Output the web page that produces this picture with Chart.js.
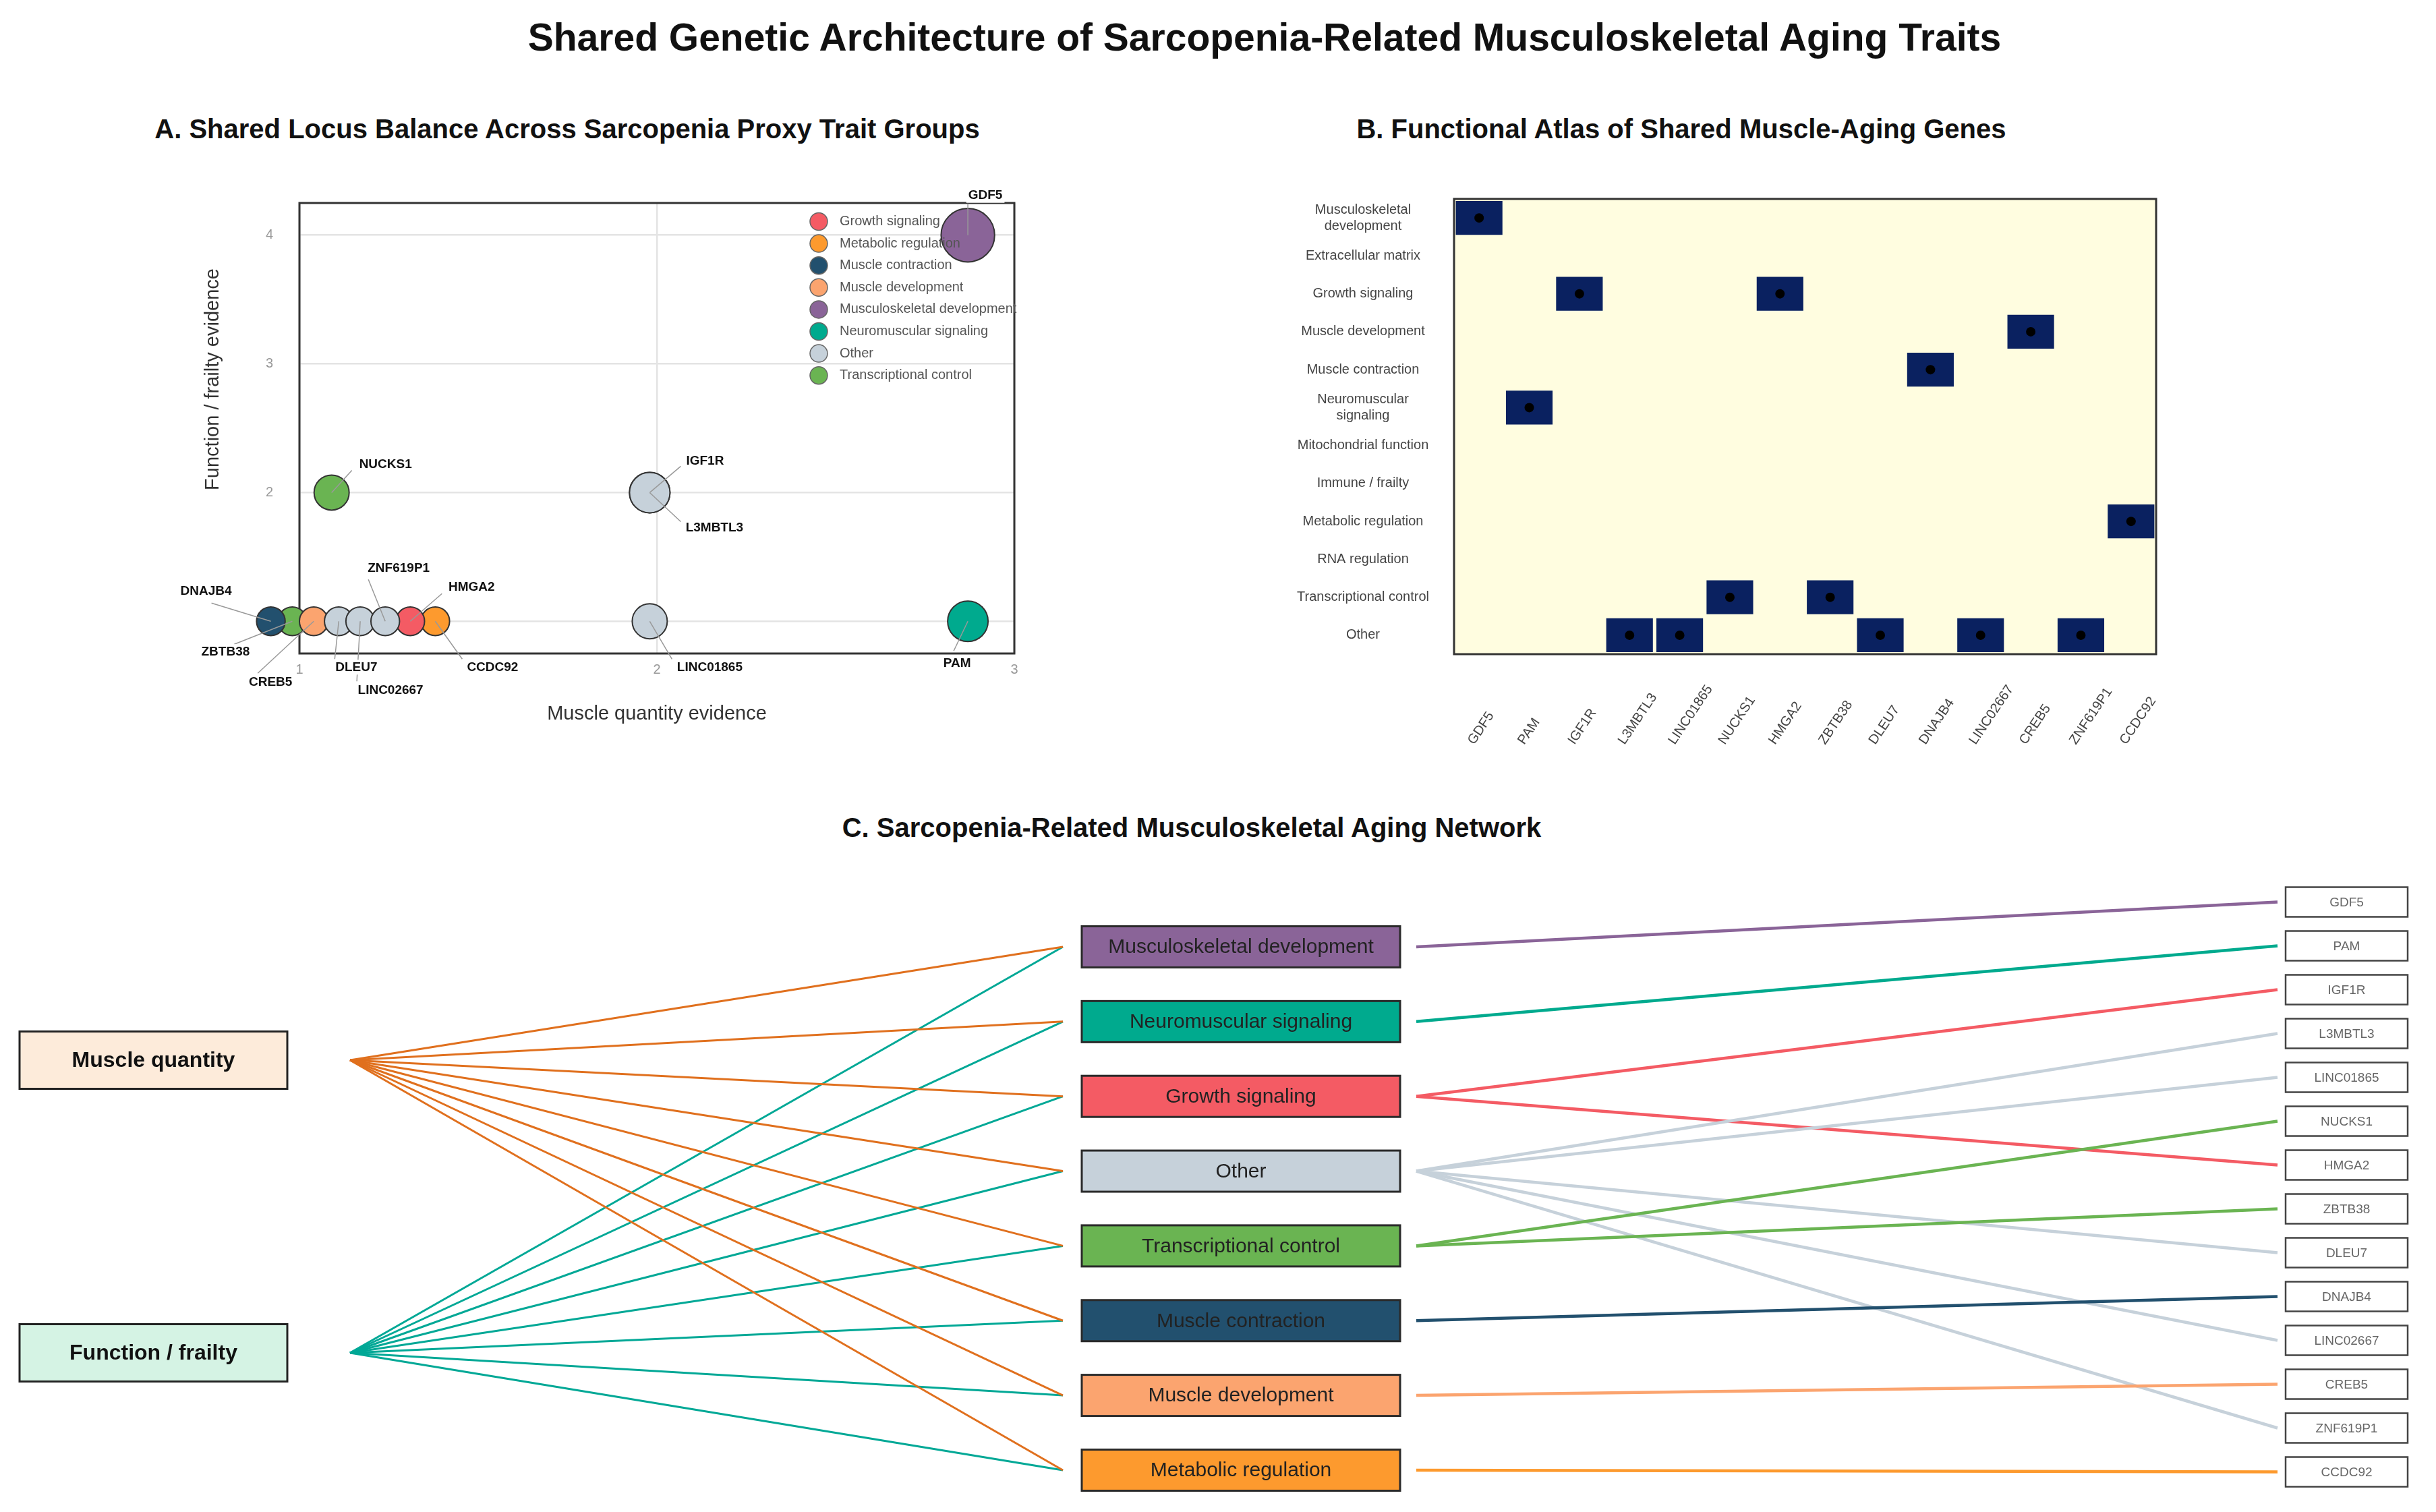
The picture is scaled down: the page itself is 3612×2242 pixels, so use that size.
<!DOCTYPE html>
<html>
<head>
<meta charset="utf-8">
<script src="https://cdn.jsdelivr.net/npm/chart.js@4.4.1/dist/chart.umd.min.js"></script>
<style>
  body { margin: 0; width: 3612px; height: 2242px; background: #fff; position: relative; overflow: hidden; font-family: "Liberation Sans", Arial, sans-serif; }
  .title { position: absolute; transform: translate(-50%, -50%); font-weight: bold; color: #111; white-space: nowrap; line-height: 1; }
  canvas { position: absolute; }
</style>
</head>
<body>
<div class="title" style="left:1875px; top:55px; font-size:57px;">Shared Genetic Architecture of Sarcopenia-Related Musculoskeletal Aging Traits</div>
<div class="title" style="left:841px; top:191px; font-size:40px;">A. Shared Locus Balance Across Sarcopenia Proxy Trait Groups</div>
<div class="title" style="left:2493px; top:191px; font-size:40px;">B. Functional Atlas of Shared Muscle-Aging Genes</div>
<div class="title" style="left:1767px; top:1227px; font-size:40px;">C. Sarcopenia-Related Musculoskeletal Aging Network</div>

<canvas id="chartA" width="1340" height="850" style="left:220px; top:250px;"></canvas>
<canvas id="chartB" width="1380" height="900" style="left:1880px; top:250px;"></canvas>
<canvas id="chartC" width="3612" height="1062" style="left:0px; top:1180px;"></canvas>

<script>
// ---- data ----
const genes = ['GDF5', 'PAM', 'IGF1R', 'L3MBTL3', 'LINC01865', 'NUCKS1', 'HMGA2', 'ZBTB38', 'DLEU7', 'DNAJB4', 'LINC02667', 'CREB5', 'ZNF619P1', 'CCDC92'];
const geneCategory = ['Musculoskeletal development', 'Neuromuscular signaling', 'Growth signaling', 'Other', 'Other',
  'Transcriptional control', 'Growth signaling', 'Transcriptional control', 'Other', 'Muscle contraction',
  'Other', 'Muscle development', 'Other', 'Metabolic regulation'];
// plotted positions in panel A (muscle evidence is dodged around the integer scores)
const muscleEvidence = [2.87, 2.87, 1.98, 1.98, 1.98, 1.09, 1.31, 0.98, 1.11, 0.92, 1.17, 1.04, 1.24, 1.38];
const functionEvidence = [4, 1, 2, 2, 1, 2, 1, 1, 1, 1, 1, 1, 1, 1];
const totalEvidence = [7, 4, 4, 4, 3, 3, 2, 2, 2, 2, 2, 2, 2, 2];
const categories = ['Growth signaling', 'Metabolic regulation', 'Muscle contraction', 'Muscle development',
  'Musculoskeletal development', 'Neuromuscular signaling', 'Other', 'Transcriptional control'];
const atlasRows = ['Musculoskeletal development', 'Extracellular matrix', 'Growth signaling', 'Muscle development',
  'Muscle contraction', 'Neuromuscular signaling', 'Mitochondrial function', 'Immune / frailty',
  'Metabolic regulation', 'RNA regulation', 'Transcriptional control', 'Other'];
const traitGroups = ['Muscle quantity', 'Function / frailty'];
const xTicksA = [1, 2, 3];
const yTicksA = [1, 2, 3, 4];

// ---- styles ----
const catColor = {
  'Growth signaling': '#F45B64',
  'Metabolic regulation': '#FD9A2E',
  'Muscle contraction': '#22506E',
  'Muscle development': '#FBA46F',
  'Musculoskeletal development': '#8A6498',
  'Neuromuscular signaling': '#00AA8E',
  'Other': '#C6D1DA',
  'Transcriptional control': '#6AB452'
};
const traitFill = ['#FDEBDA', '#D5F3E4'];
const traitEdge = ['#E0701E', '#00A896'];
const FONT = '"Liberation Sans", Arial, sans-serif';
Chart.defaults.font.family = FONT;

// label placement for panel A: [text dx, text dy, leader dx, leader dy] from bubble centre
const labelPos = {
  GDF5: [26, -59, 0, -47], PAM: [-16, 62, -21, 44], IGF1R: [82, -47, 46, -39], L3MBTL3: [96, 52, 46, 43],
  LINC01865: [89, 68, 33, 56], NUCKS1: [80, -42, 30, -33], HMGA2: [91, -51, 47, -41], ZBTB38: [-99, 45, -86, 34],
  DLEU7: [26, 68, -6, 56], DNAJB4: [-96, -45, -88, -27], LINC02667: [45, 102, -5, 89], CREB5: [-64, 90, -83, 77],
  ZNF619P1: [20, -79, -25, -62], CCDC92: [85, 68, 40, 56]
};

// ---- panel A ----
const panelA = {
  id: 'panelA',
  beforeDatasetsDraw(chart) {
    const { ctx, chartArea: a } = chart;
    ctx.save();
    ctx.strokeStyle = '#333';
    ctx.lineWidth = 3;
    ctx.strokeRect(a.left, a.top, a.right - a.left, a.bottom - a.top);
    ctx.restore();
    // bubbles dodged past the left frame still have to be drawn
    chart.$area = a;
    chart.chartArea = { left: a.left - 200, top: a.top - 200, right: a.right + 200, bottom: a.bottom + 200,
      width: a.width + 400, height: a.height + 400 };
  },
  afterDatasetsDraw(chart) {
    chart.chartArea = chart.$area;
    const { ctx, chartArea: a, scales: { x, y } } = chart;
    ctx.save();
    ctx.strokeStyle = '#999';
    ctx.lineWidth = 1.5;
    genes.forEach((g, i) => {
      const px = x.getPixelForValue(muscleEvidence[i]);
      const py = y.getPixelForValue(functionEvidence[i]);
      const p = labelPos[g];
      ctx.beginPath();
      ctx.moveTo(px, py);
      ctx.lineTo(px + p[2], py + p[3]);
      ctx.stroke();
    });
    ctx.font = 'bold 19px ' + FONT;
    ctx.textAlign = 'center';
    ctx.textBaseline = 'middle';
    genes.forEach((g, i) => {
      const px = x.getPixelForValue(muscleEvidence[i]);
      const py = y.getPixelForValue(functionEvidence[i]);
      const p = labelPos[g];
      const w = ctx.measureText(g).width;
      ctx.fillStyle = '#fff';
      ctx.fillRect(px + p[0] - w / 2 - 3, py + p[1] - 11, w + 6, 22);
      ctx.fillStyle = '#111';
      ctx.fillText(g, px + p[0], py + p[1]);
    });
    // legend
    const lx = a.right - 290, ly = a.top + 27.5;
    ctx.font = '20px ' + FONT;
    ctx.textAlign = 'left';
    categories.forEach((c, k) => {
      const cy = ly + k * 32.6;
      ctx.beginPath();
      ctx.arc(lx, cy, 13, 0, Math.PI * 2);
      ctx.fillStyle = catColor[c];
      ctx.fill();
      ctx.strokeStyle = '#666';
      ctx.lineWidth = 1.5;
      ctx.stroke();
      ctx.fillStyle = '#555';
      ctx.fillText(c, lx + 31, cy);
    });
    ctx.restore();
  }
};

new Chart(document.getElementById('chartA'), {
  type: 'bubble',
  data: {
    datasets: categories.map(c => ({
      label: c,
      data: genes.map((g, i) => ({ x: muscleEvidence[i], y: functionEvidence[i], r: 15 * Math.sqrt(totalEvidence[i]), c: geneCategory[i] }))
        .filter(d => d.c === c),
      backgroundColor: catColor[c],
      borderColor: '#333',
      borderWidth: 2,
      clip: false,
      order: c === 'Other' ? -1 : 0
    }))
  },
  options: {
    responsive: false,
    animation: false,
    layout: { padding: { top: 44, right: 56, left: 0, bottom: 0 } },
    plugins: { legend: { display: false }, tooltip: { enabled: false } },
    scales: {
      x: {
        type: 'linear', min: 1, max: 3,
        afterBuildTicks: s => { s.ticks = xTicksA.map(v => ({ value: v })); },
        afterFit: s => { s.height = 131; },
        grid: { color: '#E4E4E4', lineWidth: 2.5, drawTicks: false },
        border: { display: false },
        ticks: { padding: 12, color: '#999', font: { size: 20 } },
        title: { display: true, text: 'Muscle quantity evidence', color: '#333', font: { size: 29 }, padding: { top: 0, bottom: 24 } }
      },
      y: {
        type: 'linear', min: 0.75, max: 4.25,
        afterBuildTicks: s => { s.ticks = yTicksA.map(v => ({ value: v })); },
        afterFit: s => { s.width = 224; },
        grid: { color: '#E4E4E4', lineWidth: 2.5, drawTicks: false },
        border: { display: false },
        ticks: { padding: 39, color: '#999', font: { size: 20 } },
        title: { display: true, text: ' '.repeat(18) + 'Function / frailty evidence', color: '#333', font: { size: 29 }, padding: { top: 79, bottom: 0 } }
      }
    }
  },
  plugins: [panelA]
});

// ---- panel B ----
const wrappedRows = { 'Musculoskeletal development': ['Musculoskeletal', 'development'], 'Neuromuscular signaling': ['Neuromuscular', 'signaling'] };
const atlasIndex = geneCategory.map(c => atlasRows.indexOf(c));

const panelB = {
  id: 'panelB',
  beforeDatasetsDraw(chart) {
    const { ctx, chartArea: a } = chart;
    ctx.save();
    ctx.fillStyle = '#FFFDE0';
    ctx.fillRect(a.left, a.top, a.right - a.left, a.bottom - a.top);
    ctx.restore();
  },
  afterDatasetsDraw(chart) {
    const { ctx, chartArea: a, scales: { x } } = chart;
    ctx.save();
    ctx.strokeStyle = '#333';
    ctx.lineWidth = 3;
    ctx.strokeRect(a.left, a.top, a.right - a.left, a.bottom - a.top);
    // gene labels, rotated, starting below each column
    ctx.font = '20px ' + FONT;
    ctx.fillStyle = '#444';
    ctx.textAlign = 'left';
    ctx.textBaseline = 'middle';
    genes.forEach((g, i) => {
      ctx.save();
      ctx.translate(x.getPixelForTick(i) - 12, a.bottom + 132);
      ctx.rotate(-56 * Math.PI / 180);
      ctx.fillText(g, 0, 0);
      ctx.restore();
    });
    ctx.restore();
  }
};

new Chart(document.getElementById('chartB'), {
  type: 'bar',
  data: {
    labels: genes,
    datasets: [
      {
        type: 'scatter',
        data: atlasIndex.map((r, i) => ({ x: i, y: r })),
        pointRadius: 7,
        backgroundColor: '#000',
        borderWidth: 0
      },
      {
        type: 'bar',
        data: atlasIndex.map(r => [r - 0.445, r + 0.445]),
        backgroundColor: '#0A2160',
        borderWidth: 0,
        barPercentage: 0.93,
        categoryPercentage: 1
      }
    ]
  },
  options: {
    responsive: false,
    animation: false,
    layout: { padding: { top: 45, right: 63, left: 0, bottom: 0 } },
    plugins: { legend: { display: false }, tooltip: { enabled: false } },
    scales: {
      x: {
        type: 'category',
        afterFit: s => { s.height = 180; },
        grid: { display: false },
        border: { display: false },
        ticks: { display: false }
      },
      y: {
        type: 'linear', min: -0.5, max: 11.5, reverse: true,
        afterBuildTicks: s => { s.ticks = atlasRows.map((_, i) => ({ value: i })); },
        afterFit: s => { s.width = 276; },
        grid: { display: false },
        border: { display: false },
        ticks: {
          crossAlign: 'center', padding: 29, color: '#444', font: { size: 20 },
          callback: v => wrappedRows[atlasRows[v]] || atlasRows[v]
        }
      }
    }
  },
  plugins: [panelB]
});

// ---- panel C ----
// node layout in page pixels (hidden axes map 1:1 onto the page)
const netLayout = {
  traitLeft: 29, traitWidth: 397, traitHeight: 85, traitY: [1572, 2006], traitAnchorX: 519,
  catLeft: 1604, catWidth: 472, catHeight: 61, catTop: 1404, catStep: 110.85, catInX: 1576, catOutX: 2100,
  geneLeft: 3389, geneWidth: 181, geneHeight: 44, geneTop: 1337.5, geneStep: 65, geneInX: 3377
};
const netCategories = geneCategory.filter((c, i) => geneCategory.indexOf(c) === i);
const catY = c => netLayout.catTop + netCategories.indexOf(c) * netLayout.catStep;
const geneY = i => netLayout.geneTop + i * netLayout.geneStep;

const edges = [];
traitGroups.forEach((t, k) => {
  netCategories.forEach(c => {
    edges.push({
      data: [{ x: netLayout.traitAnchorX, y: netLayout.traitY[k] }, { x: netLayout.catInX, y: catY(c) }],
      borderColor: traitEdge[k], borderWidth: 3
    });
  });
});
genes.forEach((g, i) => {
  edges.push({
    data: [{ x: netLayout.catOutX, y: catY(geneCategory[i]) }, { x: netLayout.geneInX, y: geneY(i) }],
    borderColor: catColor[geneCategory[i]], borderWidth: 4.5
  });
});

const panelC = {
  id: 'panelC',
  afterDatasetsDraw(chart) {
    const { ctx, scales: { x, y } } = chart;
    const box = (left, width, cy, height, fill, stroke, lw, text, font, color) => {
      const x0 = x.getPixelForValue(left), x1 = x.getPixelForValue(left + width);
      const y0 = y.getPixelForValue(cy - height / 2), y1 = y.getPixelForValue(cy + height / 2);
      ctx.fillStyle = fill;
      ctx.fillRect(x0, y0, x1 - x0, y1 - y0);
      ctx.strokeStyle = stroke;
      ctx.lineWidth = lw;
      ctx.strokeRect(x0, y0, x1 - x0, y1 - y0);
      ctx.font = font;
      ctx.fillStyle = color;
      ctx.textAlign = 'center';
      ctx.textBaseline = 'middle';
      ctx.fillText(text, (x0 + x1) / 2, (y0 + y1) / 2 + 1);
    };
    ctx.save();
    traitGroups.forEach((t, k) => box(netLayout.traitLeft, netLayout.traitWidth, netLayout.traitY[k], netLayout.traitHeight,
      traitFill[k], '#222', 3, t, 'bold 32px ' + FONT, '#111'));
    netCategories.forEach(c => box(netLayout.catLeft, netLayout.catWidth, catY(c), netLayout.catHeight,
      catColor[c], '#2a2a2a', 3, c, '30px ' + FONT, '#222'));
    genes.forEach((g, i) => box(netLayout.geneLeft, netLayout.geneWidth, geneY(i), netLayout.geneHeight,
      '#fff', '#444', 2.5, g, '19px ' + FONT, '#666'));
    ctx.restore();
  }
};

new Chart(document.getElementById('chartC'), {
  type: 'scatter',
  data: {
    datasets: edges.map(e => ({ ...e, showLine: true, pointRadius: 0, clip: false }))
  },
  options: {
    responsive: false,
    animation: false,
    layout: { padding: 0 },
    plugins: { legend: { display: false }, tooltip: { enabled: false } },
    scales: {
      x: { type: 'linear', display: false, min: 0, max: 3612 },
      y: { type: 'linear', display: false, min: 1180, max: 2242, reverse: true }
    }
  },
  plugins: [panelC]
});
</script>
</body>
</html>
